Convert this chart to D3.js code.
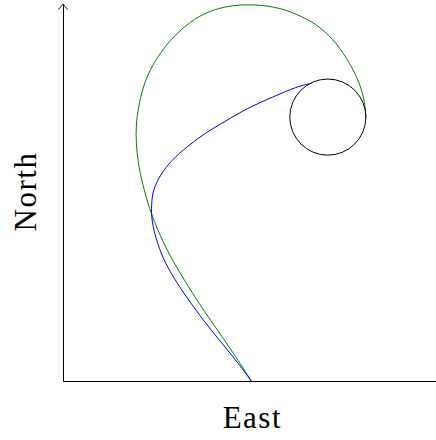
<!DOCTYPE html>
<html>
<head>
<meta charset="utf-8">
<script src="https://cdn.jsdelivr.net/npm/d3@7"></script>
<style>
  body { margin: 0; background: #fff; }
  text { font-family: "Liberation Serif", "DejaVu Serif", serif; }
</style>
</head>
<body>
<div id="chart"></div>
<script>
// ==== Data (east, north) ====
const greenPath = [
    [5.05, 0.00], [4.57, 0.74], [4.08, 1.44], [3.58, 2.15], [3.14, 2.86],
    [2.78, 3.47], [2.42, 4.27], [2.22, 4.89], [2.06, 5.52], [1.98, 6.05],
    [1.95, 6.58], [1.98, 7.01], [2.06, 7.45], [2.20, 7.98], [2.47, 8.51],
    [2.87, 9.05], [3.30, 9.44], [3.75, 9.75], [4.37, 9.95], [5.06, 10.00],
    [5.82, 9.91], [6.43, 9.66], [6.89, 9.40], [7.34, 8.96], [7.69, 8.43],
    [7.96, 7.90], [8.10, 7.37], [8.12, 6.98]
];
const bluePath = [
    [5.05, 0.00], [4.57, 0.64], [4.03, 1.27], [3.49, 1.97], [3.05, 2.60],
    [2.69, 3.21], [2.47, 3.83], [2.36, 4.36], [2.38, 4.80], [2.42, 5.07],
    [2.60, 5.46], [2.91, 5.86], [3.32, 6.21], [3.81, 6.58], [4.34, 6.88],
    [4.92, 7.23], [5.64, 7.54], [6.27, 7.81], [6.67, 7.90]
];
const target = { east: 7.10, north: 7.00, r: 1.02 };
const axisLabels = { x: "East", y: "North" };

const width = 436, height = 440;
const svg = d3.select("#chart")
              .append("svg")
              .attr("width", width)
              .attr("height", height);

const x = d3.scaleLinear().domain([0, 10]).range([63, 436]);
const y = d3.scaleLinear().domain([0, 10]).range([381, 4]);

// axes without ticks
svg.append("g")
    .attr("transform", `translate(0,${y(0)})`)
    .call(d3.axisBottom(x).tickValues([]).tickSizeOuter(0))
    .select(".domain").attr("stroke-width", 1);

svg.append("g")
    .attr("transform", `translate(${x(0)},0)`)
    .call(d3.axisLeft(y).tickValues([]).tickSizeOuter(0))
    .select(".domain").attr("stroke-width", 1);

// arrow head on north axis
const tipX = x(0), tipY = y(10);
svg.append("path")
    .attr("d", `M${tipX - 4.5},${tipY + 5.5} Q${tipX - 1.5},${tipY + 2} ${tipX},${tipY} Q${tipX + 1.5},${tipY + 2} ${tipX + 4.5},${tipY + 5.5}`)
    .attr("fill", "none")
    .attr("stroke", "#000")
    .attr("stroke-width", 0.9);

// smoothing spline through the read-off points
const line = d3.line()
    .x(d => x(d[0]))
    .y(d => y(d[1]))
    .curve(d3.curveBasis);

svg.append("path")
    .datum(greenPath)
    .attr("fill", "none")
    .attr("stroke", "#008000")
    .attr("stroke-width", 1)
    .attr("d", line);

svg.append("path")
    .datum(bluePath)
    .attr("fill", "none")
    .attr("stroke", "#0000ff")
    .attr("stroke-width", 1)
    .attr("d", line);

svg.append("circle")
    .attr("cx", x(target.east))
    .attr("cy", y(target.north))
    .attr("r", x(target.r) - x(0))
    .attr("fill", "none")
    .attr("stroke", "#000")
    .attr("stroke-width", 1);

// labels
svg.append("text")
    .attr("x", x(5.05) + 1)
    .attr("y", 428)
    .attr("text-anchor", "middle")
    .style("font-size", "31px")
    .style("letter-spacing", "1.5px")
    .text(axisLabels.x);

svg.append("text")
    .attr("transform", `translate(36,${y(5) - 1}) rotate(-90)`)
    .attr("text-anchor", "middle")
    .style("font-size", "31px")
    .style("letter-spacing", "1.5px")
    .text(axisLabels.y);
</script>
</body>
</html>
